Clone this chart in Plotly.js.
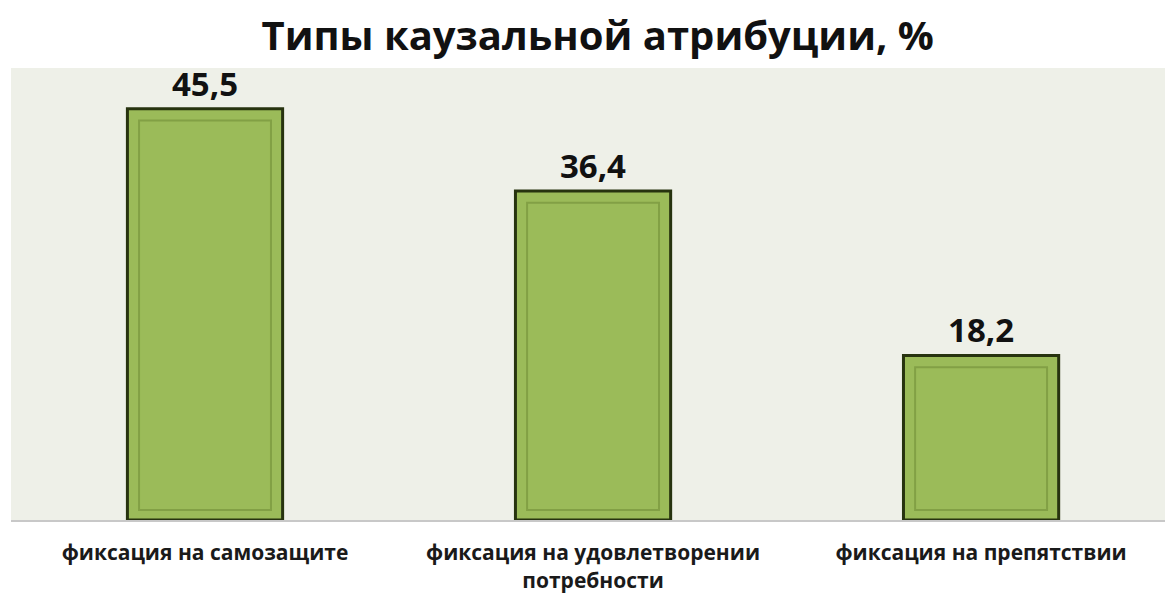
<!DOCTYPE html>
<html><head><meta charset="utf-8">
<script src="https://cdn.plot.ly/plotly-3.0.1.min.js"></script>
<style>html,body{margin:0;padding:0;background:#fff}#c{width:1165px;height:597px}</style>
</head><body><div id="c"></div>
<script>
const categories = ["фиксация на самозащите", "фиксация на удовлетворении<br>потребности", "фиксация на препятствии"];
const values = [45.5, 36.4, 18.2];
const labels = ["45,5", "36,4", "18,2"];

const outer = {
  type: 'bar', x: categories, y: values, width: 0.4,
  marker: {color: '#9BBB59', line: {color: '#27330f', width: 3}},
  text: labels, textposition: 'outside', cliponaxis: false,
  textfont: {family: 'Open Sans', size: 33, color: '#111', weight: 700},
  hoverinfo: 'skip'
};
const inner = {
  type: 'bar', x: categories, y: values.map(v => v - 2.4), base: 1.1, width: 0.34,
  marker: {color: '#9BBB59', line: {color: '#82a045', width: 2}},
  hoverinfo: 'skip'
};
const layout = {
  width: 1165, height: 597,
  margin: {l: 11, r: 0, t: 68, b: 77},
  paper_bgcolor: '#ffffff', plot_bgcolor: '#EEF0E8',
  showlegend: false, barmode: 'overlay', separators: ', ',
  title: {text: 'Типы каузальной атрибуции, %', x: 0.513, xanchor: 'center', y: 0.94, yanchor: 'middle',
    font: {family: 'Open Sans', size: 40, color: '#111', weight: 700}},
  xaxis: {range: [-0.5, 2.474], showline: true, linecolor: '#c8c8c8', linewidth: 2,
    tickfont: {family: 'Open Sans', size: 21, color: '#1a1a1a', weight: 700}, ticks: '', ticklabelstandoff: 13},
  yaxis: {range: [0, 50], showticklabels: false, showgrid: false, zeroline: false}
};
Plotly.newPlot('c', [outer, inner], layout, {displayModeBar: false});
</script></body></html>
